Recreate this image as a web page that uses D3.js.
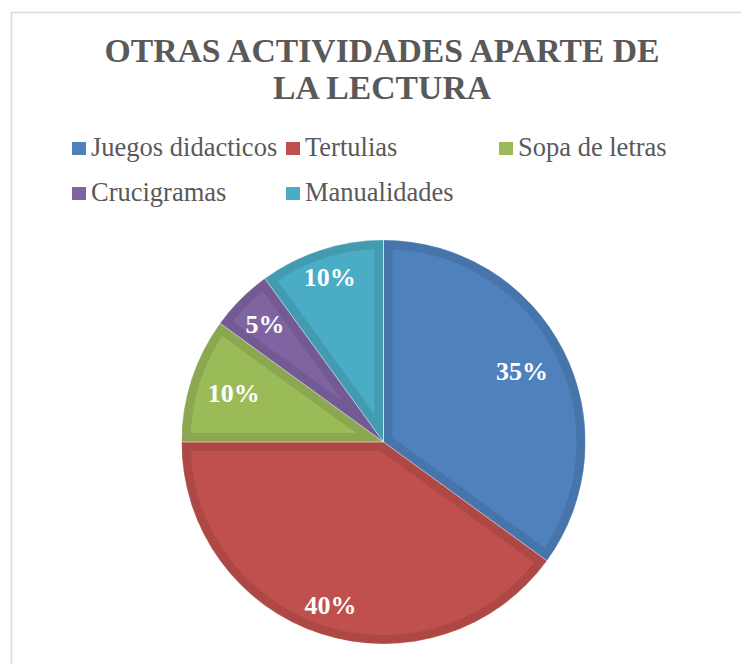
<!DOCTYPE html>
<html lang="es">
  <head>
    <meta charset="UTF-8" />
    <title>Otras actividades aparte de la lectura</title>
    <script src="https://d3js.org/d3.v7.min.js"></script>
    <style>
      body { margin: 0; background: #fff; }
      text { font-family: "Liberation Serif", "Times New Roman", serif; }
    </style>
  </head>
  <body>
    <div id="chart"></div>
    <script>
      // datos
      const categories = ["Juegos didacticos", "Tertulias", "Sopa de letras", "Crucigramas", "Manualidades"];
      const values = [35, 40, 10, 5, 10];
      const colors = ["#4F81BD", "#C0504D", "#9BBB59", "#8064A2", "#4BACC6"];
      const titleLines = ["OTRAS ACTIVIDADES APARTE DE", "LA LECTURA"];

      // layout (best-fit label spots, as Excel placed them)
      const labelRadius = [0.77, 0.85, 0.78, 0.83, 0.86];
      const legendCols = [72, 286, 499];

      const width = 741, height = 664;
      const cx = 383.5, cy = 442, r = 202;

      const svg = d3.select("#chart").append("svg")
        .attr("width", width)
        .attr("height", height);

      // chart area border
      svg.append("rect")
        .attr("x", 11.5).attr("y", 12.5)
        .attr("width", 900).attr("height", 900)
        .attr("fill", "none")
        .attr("stroke", "#D9D9D9")
        .attr("stroke-width", 1.5);

      // title
      svg.append("g").selectAll("text")
        .data(titleLines)
        .enter().append("text")
        .attr("x", 382)
        .attr("y", (d, i) => 62 + i * 37)
        .attr("text-anchor", "middle")
        .attr("font-size", 33.7)
        .attr("font-weight", "bold")
        .attr("fill", "#595959")
        .text(d => d);

      // legend
      const legend = svg.append("g").selectAll("g")
        .data(categories)
        .enter().append("g")
        .attr("transform", (d, i) => `translate(${legendCols[i % 3]},${156 + Math.floor(i / 3) * 45})`);
      legend.append("rect")
        .attr("x", 0).attr("y", -14)
        .attr("width", 14).attr("height", 13)
        .attr("fill", (d, i) => colors[i]);
      legend.append("text")
        .attr("x", 19).attr("y", 0)
        .attr("font-size", 26.5)
        .attr("fill", "#595959")
        .text(d => d);

      // pie
      const pie = d3.pie().sort(null).value(d => d);
      const arcs = pie(values);
      const arc = d3.arc().innerRadius(0).outerRadius(r);

      const g = svg.append("g").attr("transform", `translate(${cx},${cy})`);
      const defs = svg.append("defs");
      defs.selectAll("clipPath")
        .data(arcs)
        .enter().append("clipPath")
        .attr("id", (d, i) => "clip" + i)
        .append("path")
        .attr("d", arc);

      g.selectAll(".slice")
        .data(arcs)
        .enter().append("path")
        .attr("class", "slice")
        .attr("d", arc)
        .attr("fill", (d, i) => colors[i])
        .attr("stroke", (d, i) => d3.color(colors[i]).darker(0.3))
        .attr("stroke-width", 18)
        .attr("stroke-linejoin", "miter")
        .attr("clip-path", (d, i) => `url(#clip${i})`);

      // thin light seams between slices
      g.selectAll(".seam")
        .data(arcs)
        .enter().append("path")
        .attr("class", "seam")
        .attr("d", arc)
        .attr("fill", "none")
        .attr("stroke", "#fff")
        .attr("stroke-opacity", 0.4)
        .attr("stroke-width", 0.75);

      // labels
      g.selectAll(".label")
        .data(arcs)
        .enter().append("text")
        .attr("class", "label")
        .attr("transform", (d, i) => {
          const lr = r * labelRadius[i];
          const c = d3.arc().innerRadius(lr).outerRadius(lr).centroid(d);
          return `translate(${c[0]},${c[1]})`;
        })
        .attr("dy", "0.35em")
        .attr("text-anchor", "middle")
        .attr("font-size", 26)
        .attr("font-weight", "bold")
        .attr("fill", "#fff")
        .text(d => d.data + "%");
    </script>
  </body>
</html>
